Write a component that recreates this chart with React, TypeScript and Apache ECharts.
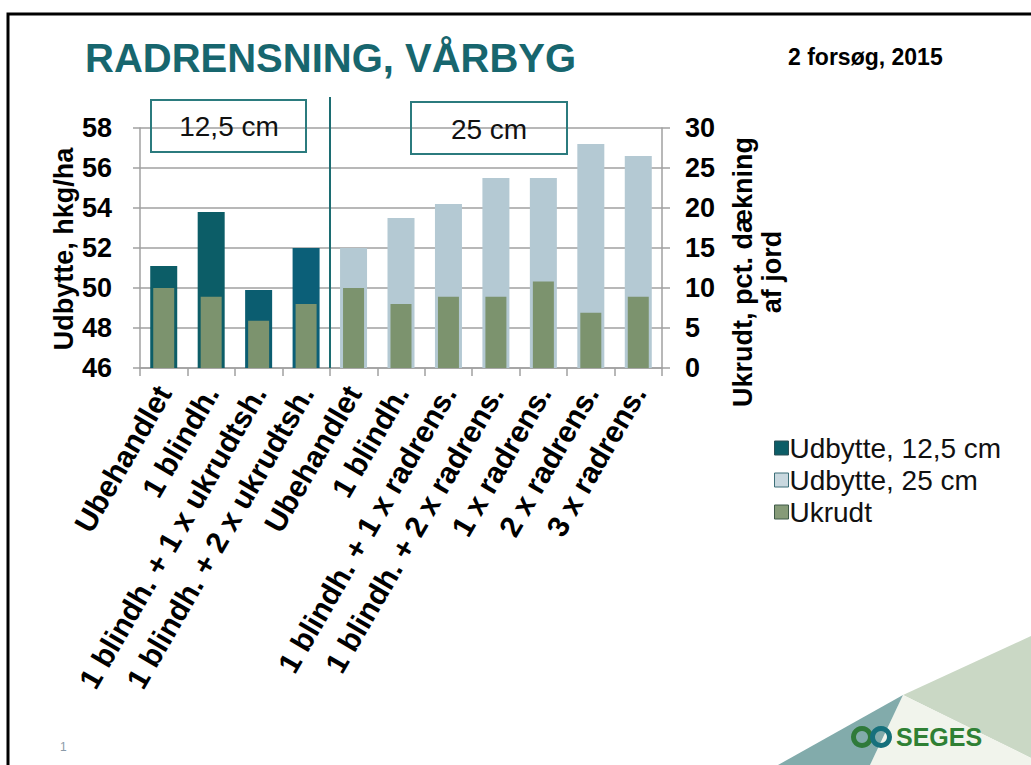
import React, { useEffect, useRef } from "react";
import * as echarts from "echarts";

const categories = [
  "Ubehandlet",
  "1 blindh.",
  "1 blindh. + 1 x ukrudtsh.",
  "1 blindh. + 2 x ukrudtsh.",
  "Ubehandlet",
  "1 blindh.",
  "1 blindh. + 1 x radrens.",
  "1 blindh. + 2 x radrens.",
  "1 x radrens.",
  "2 x radrens.",
  "3 x radrens.",
];
const yield125: (number | string)[] = [51.1, 53.8, 49.9, 52.0, "-", "-", "-", "-", "-", "-", "-"];
const yield25: (number | string)[] = ["-", "-", "-", "-", 52.0, 53.5, 54.2, 55.5, 55.5, 57.2, 56.6];
const weeds = [10, 8.9, 5.9, 8.0, 10, 8.0, 8.9, 8.9, 10.8, 6.9, 8.9];
const yieldColors125 = ["#0c5d67", "#0c5d67", "#0b5d70", "#0b5f78"];
const seriesNames = ["Udbytte, 12,5 cm", "Udbytte, 25 cm", "Ukrudt"];
const groupLabels = ["12,5 cm", "25 cm"];

const FONT = "'Liberation Sans', Arial, sans-serif";
const TEAL = "#1c6d72";

export default function App() {
  const ref = useRef<HTMLDivElement>(null);
  useEffect(() => {
    if (!ref.current) return;
    const chart = echarts.init(ref.current, undefined, { renderer: "svg" });
    const gridLeft = 140;
    const gridRight = 662;
    const gridTop = 128;
    const gridBottom = 368;
    const option: any = {
      animation: false,
      backgroundColor: "#ffffff",
      textStyle: { fontFamily: FONT },
      grid: {
        left: gridLeft,
        right: 1031 - gridRight,
        top: gridTop,
        bottom: 765 - gridBottom,
        containLabel: false,
      },
      legend: {
        orient: "vertical",
        left: 774,
        top: 434,
        itemWidth: 14,
        itemHeight: 14,
        itemGap: 4,
        padding: 0,
        icon: "rect",
        textStyle: { fontSize: 28, color: "#111", fontFamily: FONT, padding: [0, 0, 0, -4] },
        data: [
          { name: seriesNames[0], itemStyle: { color: "#0c5d67", borderColor: "#2a4f55", borderWidth: 1 } },
          { name: seriesNames[1], itemStyle: { color: "#c9d8df", borderColor: "#3d6f78", borderWidth: 1 } },
          { name: seriesNames[2], itemStyle: { color: "#869b78", borderColor: "#3f5a48", borderWidth: 1 } },
        ],
      },
      xAxis: [
        {
          type: "category",
          data: categories,
          position: "bottom",
          axisLine: { show: true, lineStyle: { color: "#a0a0a0", width: 1.5 } },
          axisTick: { show: true, length: 8, lineStyle: { color: "#a0a0a0", width: 1.5 } },
          axisLabel: {
            interval: 0,
            rotate: 60,
            margin: 20,
            fontSize: 30,
            fontWeight: "bold",
            color: "#000",
            fontFamily: FONT,
          },
        },
        {
          type: "category",
          data: categories,
          show: false,
        },
      ],
      yAxis: [
        {
          type: "value",
          min: 46,
          max: 58,
          interval: 2,
          axisLine: { show: true, lineStyle: { color: "#a0a0a0", width: 1.5 } },
          axisTick: { show: true, length: 7, lineStyle: { color: "#a0a0a0", width: 1.5 } },
          splitLine: { show: true, lineStyle: { color: "#a0a0a0", width: 1.5 } },
          axisLabel: { fontSize: 27, fontWeight: "bold", color: "#000", margin: 28, fontFamily: FONT },
        },
        {
          type: "value",
          min: 0,
          max: 30,
          interval: 5,
          position: "right",
          axisLine: { show: true, lineStyle: { color: "#a0a0a0", width: 1.5 } },
          axisTick: { show: true, length: 8, lineStyle: { color: "#a0a0a0", width: 1.5 } },
          splitLine: { show: false },
          axisLabel: { fontSize: 27, fontWeight: "bold", color: "#000", margin: 23, fontFamily: FONT },
        },
      ],
      series: [
        {
          name: seriesNames[0],
          type: "bar",
          xAxisIndex: 0,
          yAxisIndex: 0,
          barWidth: 27,
          barGap: "-100%",
          data: yield125.map((v, i) => ({
            value: v,
            itemStyle: { color: yieldColors125[i] || "#0c5d67" },
          })),
          itemStyle: { color: "#0c5d67" },
        },
        {
          name: seriesNames[1],
          type: "bar",
          xAxisIndex: 0,
          yAxisIndex: 0,
          barWidth: 27,
          barGap: "-100%",
          data: yield25,
          itemStyle: { color: "#b4c9d3" },
        },
        {
          name: seriesNames[2],
          type: "bar",
          xAxisIndex: 1,
          yAxisIndex: 1,
          barWidth: 21,
          data: weeds,
          itemStyle: { color: "#7c936e" },
          z: 3,
        },
      ],
      graphic: [
        {
          type: "rect",
          shape: { x: 8, y: 14, width: 1040, height: 780 },
          style: { fill: "none", stroke: "#000", lineWidth: 3 },
          z: 100,
        },
        {
          type: "text",
          x: 85,
          y: 58,
          style: {
            text: "RADRENSNING, VÅRBYG",
            fill: "#17666e",
            font: `bold 40px ${FONT}`,
            textVerticalAlign: "middle",
          },
        },
        {
          type: "text",
          x: 788,
          y: 57,
          style: {
            text: "2 forsøg, 2015",
            fill: "#000",
            font: `bold 23px ${FONT}`,
            textVerticalAlign: "middle",
          },
        },
        {
          type: "text",
          x: 64,
          y: 249,
          rotation: Math.PI / 2,
          style: {
            text: "Udbytte, hkg/ha",
            fill: "#000",
            font: `bold 27px ${FONT}`,
            textAlign: "center",
            textVerticalAlign: "middle",
          },
        },
        {
          type: "text",
          x: 757,
          y: 272,
          rotation: Math.PI / 2,
          style: {
            text: "Ukrudt, pct. dækning\naf jord",
            fill: "#000",
            font: `bold 27px ${FONT}`,
            lineHeight: 29,
            textAlign: "center",
            textVerticalAlign: "middle",
          },
        },
        {
          type: "line",
          shape: { x1: 330, y1: 97, x2: 330, y2: 368 },
          style: { stroke: TEAL, lineWidth: 2 },
          z: 50,
        },
        {
          type: "rect",
          shape: { x: 151, y: 100, width: 155, height: 52 },
          style: { fill: "none", stroke: "#2b7b7e", lineWidth: 2 },
          z: 50,
        },
        {
          type: "text",
          x: 229,
          y: 126,
          style: {
            text: groupLabels[0],
            fill: "#111",
            font: `28px ${FONT}`,
            textAlign: "center",
            textVerticalAlign: "middle",
          },
          z: 50,
        },
        {
          type: "rect",
          shape: { x: 411, y: 102, width: 156, height: 52 },
          style: { fill: "none", stroke: "#2b7b7e", lineWidth: 2 },
          z: 50,
        },
        {
          type: "text",
          x: 489,
          y: 129,
          style: {
            text: groupLabels[1],
            fill: "#111",
            font: `28px ${FONT}`,
            textAlign: "center",
            textVerticalAlign: "middle",
          },
          z: 50,
        },
        {
          type: "polygon",
          shape: { points: [[903, 695], [1031, 636], [1031, 758]] },
          style: { fill: "#cad8c5" },
        },
        {
          type: "polygon",
          shape: { points: [[903, 695], [1031, 758], [1031, 765], [870, 765]] },
          style: { fill: "#f1f4ec" },
        },
        {
          type: "polygon",
          shape: { points: [[778, 765], [903, 695], [870, 765]] },
          style: { fill: "#82abab" },
        },
        {
          type: "ring",
          shape: { cx: 862, cy: 737, r: 11, r0: 6 },
          style: { fill: "#2f7a3a" },
          z: 20,
        },
        {
          type: "ring",
          shape: { cx: 881, cy: 737, r: 11, r0: 6 },
          style: { fill: "#16707c" },
          z: 21,
        },
        {
          type: "text",
          x: 896,
          y: 737,
          style: {
            text: "SEGES",
            fill: "#2f8034",
            font: `bold 25px ${FONT}`,
            textVerticalAlign: "middle",
          },
          z: 20,
        },
        {
          type: "text",
          x: 60,
          y: 747,
          style: {
            text: "1",
            fill: "#8a9aa8",
            font: `12px ${FONT}`,
            textVerticalAlign: "middle",
          },
        },
      ],
    };
    chart.setOption(option);
    return () => chart.dispose();
  }, []);
  return (
    <div
      ref={ref}
      style={{ position: "absolute", left: 0, top: 0, width: 1031, height: 765, background: "#fff" }}
    />
  );
}
